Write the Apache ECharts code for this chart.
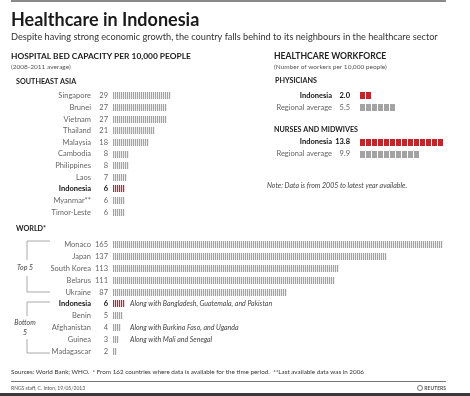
<!DOCTYPE html>
<html>
<head>
<meta charset="utf-8">
<script src="https://cdn.jsdelivr.net/npm/echarts@6/dist/echarts.min.js"></script>
<style>
  html, body { margin: 0; padding: 0; background: #fff; }
  #chart { width: 470px; height: 396px; }
</style>
</head>
<body>
<div id="chart"></div>
<script>
const FONT = 'Lato'

// hospital beds per 10,000 people
const seaCountries = ['Singapore', 'Brunei', 'Vietnam', 'Thailand', 'Malaysia', 'Cambodia', 'Philippines', 'Laos', 'Indonesia', 'Myanmar**', 'Timor-Leste']
const seaBeds = [29, 27, 27, 21, 18, 8, 8, 7, 6, 6, 6]
const worldCountries = ['Monaco', 'Japan', 'South Korea', 'Belarus', 'Ukraine', 'Indonesia', 'Benin', 'Afghanistan', 'Guinea', 'Madagascar']
const worldBeds = [165, 137, 113, 111, 87, 6, 5, 4, 3, 2]
const worldNotes = ['', '', '', '', '', 'Along with Bangladesh, Guatemala, and Pakistan', '', 'Along with Burkina Faso, and Uganda', 'Along with Mali and Senegal', '']

// healthcare workforce per 10,000 people
const workforceRows = ['Indonesia', 'Regional average']
const physicians = [2.0, 5.5]
const nurses = [13.8, 9.9]

const RED = '#c0272d'
const GREY = '#a3a3a3'

function bedLabel(values) {
  return (name, idx) => {
    const v = values[idx]
    return name === 'Indonesia' ? `{nb|${name}}{vb|${v}}` : `{n|${name}}{v|${v}}`
  }
}
function workLabel(values) {
  return (name, idx) => {
    const v = values[idx].toFixed(1)
    return name === 'Indonesia' ? `{nb|${name}}{vb|${v}}` : `{n|${name}}{v|${v}}`
  }
}
function richFor(nameW, valW, size) {
  const base = { fontFamily: FONT, fontSize: size, color: '#666' }
  return {
    n: { ...base, width: nameW, align: 'right' },
    v: { ...base, width: valW, align: 'right' },
    nb: { ...base, width: nameW, align: 'right', color: '#111', fontWeight: 'bold' },
    vb: { ...base, width: valW, align: 'right', color: '#111', fontWeight: 'bold' },
  }
}

// stripes: one thin bar per unit
function stripes(names, notes) {
  return (params, api) => {
    const cat = params.dataIndex
    const val = api.value(0)
    const start = api.coord([0, cat])
    const unit = api.size([1, 0])[0]
    const h = 7
    const color = names[cat] === 'Indonesia' ? RED : GREY
    const children = []
    const n = Math.round(val)
    for (let i = 0; i < n; i++) {
      children.push({
        type: 'rect',
        shape: { x: start[0] + i * unit, y: Math.round(start[1] - h / 2), width: unit * 0.6, height: h },
        style: { fill: color },
      })
    }
    if (notes && notes[cat]) {
      children.push({
        type: 'text',
        x: start[0] + 17,
        y: start[1],
        style: { text: notes[cat], fontFamily: FONT, fontSize: 7, fontStyle: 'italic', fill: '#444', verticalAlign: 'middle' },
      })
    }
    return { type: 'group', children }
  }
}
// blocks: one square per unit
function blocks(names) {
  return (params, api) => {
    const cat = params.dataIndex
    const val = api.value(0)
    const start = api.coord([0, cat])
    const unit = api.size([1, 0])[0]
    const h = 7
    const color = names[cat] === 'Indonesia' ? RED : GREY
    const children = []
    const n = Math.ceil(val - 1e-6)
    for (let i = 0; i < n; i++) {
      children.push({
        type: 'rect',
        shape: { x: start[0] + i * unit, y: Math.round(start[1] - h / 2), width: unit - 1, height: h },
        style: { fill: color },
      })
    }
    return { type: 'group', children }
  }
}

function txt(x, y, text, size, extra) {
  return {
    type: 'text', x, y,
    style: { text, fontFamily: FONT, fontSize: size, fill: '#222', verticalAlign: 'middle', ...extra },
  }
}

const chart = echarts.init(document.getElementById('chart'))

const hiddenX = (max, idx) => ({ type: 'value', gridIndex: idx, min: 0, max, show: false })
const catY = (data, idx, fmt, rich) => ({
  type: 'category', gridIndex: idx, data, inverse: true,
  axisLine: { show: false }, axisTick: { show: false }, splitLine: { show: false },
  axisLabel: { formatter: fmt, rich, interval: 0, margin: idx >= 2 ? 10 : 5 },
})

chart.setOption({
  animation: false,
  backgroundColor: '#fff',
  textStyle: { fontFamily: FONT },
  grid: [
    { left: 113, top: 90, width: 330, height: 128 },
    { left: 113, top: 239, width: 330, height: 118 },
    { left: 360, top: 90, width: 84, height: 23 },
    { left: 360, top: 136, width: 84, height: 24 },
  ],
  xAxis: [hiddenX(165, 0), hiddenX(165, 1), hiddenX(14, 2), hiddenX(14, 3)],
  yAxis: [
    catY(seaCountries, 0, bedLabel(seaBeds), richFor(78, 17, 7.5)),
    catY(worldCountries, 1, bedLabel(worldBeds), richFor(78, 17, 7.5)),
    catY(workforceRows, 2, workLabel(physicians), richFor(60, 18, 7.5)),
    catY(workforceRows, 3, workLabel(nurses), richFor(60, 18, 7.5)),
  ],
  series: [
    { type: 'custom', xAxisIndex: 0, yAxisIndex: 0, renderItem: stripes(seaCountries), data: seaBeds.map((v, i) => [v, i]) },
    { type: 'custom', xAxisIndex: 1, yAxisIndex: 1, renderItem: stripes(worldCountries, worldNotes), data: worldBeds.map((v, i) => [v, i]) },
    { type: 'custom', xAxisIndex: 2, yAxisIndex: 2, renderItem: blocks(workforceRows), data: physicians.map((v, i) => [v, i]) },
    { type: 'custom', xAxisIndex: 3, yAxisIndex: 3, renderItem: blocks(workforceRows), data: nurses.map((v, i) => [v, i]) },
  ],
  graphic: [
    { type: 'rect', shape: { x: 11, y: 0, width: 435, height: 2 }, style: { fill: '#8a8a8a' } },
    txt(11, 20, 'Healthcare in Indonesia', 18, { fontWeight: 'bold', fill: '#1a1a1a' }),
    txt(11, 37, 'Despite having strong economic growth, the country falls behind to its neighbours in the healthcare sector', 9.2, { fill: '#333' }),
    txt(11, 56, 'HOSPITAL BED CAPACITY PER 10,000 PEOPLE', 8.4, { fontWeight: 'bold' }),
    txt(11, 67, '(2008-2011 average)', 6.5, { fill: '#555' }),
    txt(16, 82, 'SOUTHEAST ASIA', 7.2, { fontWeight: 'bold' }),
    txt(274, 56, 'HEALTHCARE WORKFORCE', 8.6, { fontWeight: 'bold' }),
    txt(274, 67, '(Number of workers per 10,000 people)', 6.5, { fill: '#555' }),
    txt(275, 81, 'PHYSICIANS', 7.2, { fontWeight: 'bold' }),
    txt(274, 130, 'NURSES AND MIDWIVES', 7.2, { fontWeight: 'bold' }),
    txt(267, 186, 'Note: Data is from 2005 to latest year available.', 7, { fontStyle: 'italic', fill: '#444' }),
    txt(16, 229, 'WORLD*', 7.2, { fontWeight: 'bold' }),
    // top 5 bracket
    { type: 'polyline', shape: { points: [[50, 241], [27, 241], [27, 260]] }, style: { stroke: '#aaa', lineWidth: 1, fill: null } },
    { type: 'polyline', shape: { points: [[27, 276], [27, 292], [50, 292]] }, style: { stroke: '#aaa', lineWidth: 1, fill: null } },
    txt(25, 268, 'Top 5', 7, { fontStyle: 'italic', fill: '#444', align: 'center' }),
    // bottom 5 bracket
    { type: 'polyline', shape: { points: [[50, 302], [27, 302], [27, 316]] }, style: { stroke: '#aaa', lineWidth: 1, fill: null } },
    { type: 'polyline', shape: { points: [[27, 339], [27, 353], [50, 353]] }, style: { stroke: '#aaa', lineWidth: 1, fill: null } },
    txt(25, 323, 'Bottom', 7, { fontStyle: 'italic', fill: '#444', align: 'center' }),
    txt(25, 333, '5', 7, { fontStyle: 'italic', fill: '#444', align: 'center' }),
    txt(11, 372, 'Sources: World Bank; WHO.  * From 162 countries where data is available for the time period.  **Last available data was in 2006', 6.3, { fill: '#333' }),
    { type: 'line', shape: { x1: 11, y1: 381.5, x2: 446, y2: 381.5 }, style: { stroke: '#777', lineWidth: 1 } },
    txt(11, 388, 'RNGS staff, C. Inton, 19/05/2013', 5, { fill: '#555' }),
    { type: 'circle', shape: { cx: 420, cy: 388, r: 2.5 }, style: { stroke: '#777', fill: null, lineWidth: 1 } },
    txt(446, 388, 'REUTERS', 5, { fill: '#555', fontWeight: 'bold', align: 'right' }),
    { type: 'rect', shape: { x: 0, y: 393, width: 470, height: 3 }, style: { fill: '#3a3a3a' } },
  ],
})
</script>
</body>
</html>
